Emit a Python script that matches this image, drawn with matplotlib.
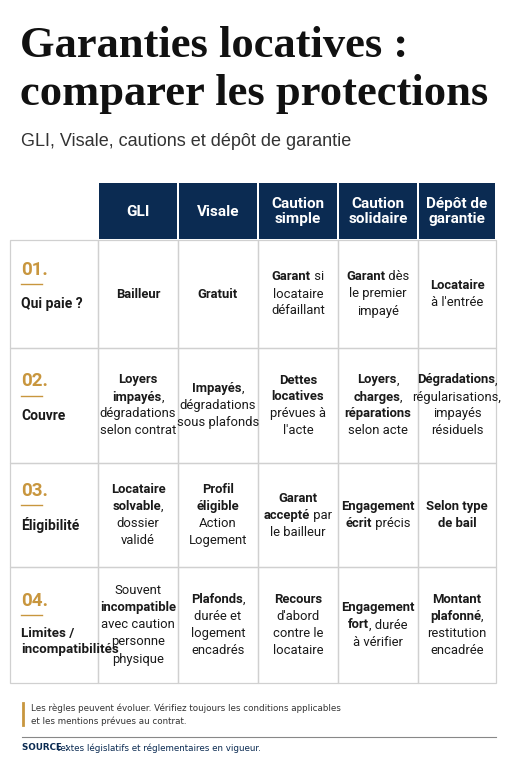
import re
import matplotlib.pyplot as plt
from matplotlib.patches import Rectangle
from matplotlib.font_manager import fontManager

NAVY = "#0b2b52"
GOLD = "#c8963e"
GRID = "#d0d0d0"
TXT = "#1a1a1a"

names = {f.name for f in fontManager.ttflist}
COND = "Liberation Sans Narrow" if "Liberation Sans Narrow" in names else "Roboto"

columns = ["GLI", "Visale", "Caution\nsimple", "Caution\nsolidaire", "Dépôt de\ngarantie"]
row_nums = ["01.", "02.", "03.", "04."]
row_labels = ["Qui paie ?", "Couvre", "Éligibilité", "Limites /\nincompatibilités"]
# ** marks bold pieces
cells = [
    ["**Bailleur**", "**Gratuit**", "**Garant** si\nlocataire\ndéfaillant",
     "**Garant** dès\nle premier\nimpayé", "**Locataire**\nà l'entrée"],
    ["**Loyers**\n**impayés**,\ndégradations\nselon contrat", "**Impayés**,\ndégradations\nsous plafonds",
     "**Dettes**\n**locatives**\nprévues à\nl'acte", "**Loyers**,\n**charges**,\n**réparations**\nselon acte",
     "**Dégradations**,\nrégularisations,\nimpayés\nrésiduels"],
    ["**Locataire**\n**solvable**,\ndossier\nvalidé", "**Profil**\n**éligible**\nAction\nLogement",
     "**Garant**\n**accepté** par\nle bailleur", "**Engagement**\n**écrit** précis", "**Selon type**\n**de bail**"],
    ["Souvent\n**incompatible**\navec caution\npersonne\nphysique", "**Plafonds**,\ndurée et\nlogement\nencadrés",
     "**Recours**\nd'abord\ncontre le\nlocataire", "**Engagement**\n**fort**, durée\nà vérifier",
     "**Montant**\n**plafonné**,\nrestitution\nencadrée"],
]

W, H = 511, 768
fig = plt.figure(figsize=(W / 100, H / 100), dpi=100)
ax = fig.add_axes([0, 0, 1, 1])
ax.set_xlim(0, W)
ax.set_ylim(H, 0)
ax.axis("off")

ax.text(20, 46, "Garanties locatives :", fontsize=32, fontweight="bold",
        family="Liberation Serif", va="center", color="#111")
ax.text(20, 94, "comparer les protections", fontsize=32, fontweight="bold",
        family="Liberation Serif", va="center", color="#111")
ax.text(21, 141, "GLI, Visale, cautions et dépôt de garantie", fontsize=13,
        family="Liberation Sans", va="center", color="#333")

col_x = [10, 98, 178, 258, 338, 418, 496]
row_y = [240, 348, 463, 567, 683]
head_top = 183

renderer = fig.canvas.get_renderer()


def draw_line(xc, y, line, size=9.4):
    parts = [p for p in re.split(r"(\*\*.*?\*\*)", line) if p]
    arts = []
    for p in parts:
        w = "bold" if p.startswith("**") else "normal"
        arts.append(ax.text(0, y, p.strip("*"), fontsize=size, fontweight=w, family=COND,
                            va="center", ha="left", color=TXT))
    inv = ax.transData.inverted()
    widths = []
    for t in arts:
        bb = t.get_window_extent(renderer)
        widths.append(inv.transform((bb.x1, 0))[0] - inv.transform((bb.x0, 0))[0])
    x = xc - sum(widths) / 2
    for t, w in zip(arts, widths):
        t.set_x(x)
        x += w


# header
for j, col in enumerate(columns):
    x0, x1 = col_x[j + 1], col_x[j + 2]
    ax.add_patch(Rectangle((x0 + 1, head_top), x1 - x0 - 2, row_y[0] - head_top - 1,
                           color=NAVY, lw=0))
    ax.text((x0 + x1) / 2, (head_top + row_y[0]) / 2, col, ha="center", va="center",
            color="white", fontsize=11, fontweight="bold", family=COND, linespacing=1.05)

# grid
for i in range(len(row_nums)):
    y0, y1 = row_y[i], row_y[i + 1]
    for j in range(len(col_x) - 1):
        ax.add_patch(Rectangle((col_x[j], y0), col_x[j + 1] - col_x[j], y1 - y0,
                               fill=False, ec=GRID, lw=0.9))
    ym = (y0 + y1) / 2
    ax.text(21, ym - 24, row_nums[i], color=GOLD, fontsize=13.5, fontweight="bold",
            family=COND, va="center")
    ax.plot([21, 42], [ym - 10, ym - 10], color=GOLD, lw=1)
    nl = row_labels[i].count("\n")
    ax.text(21, ym + 10 + nl * 7, row_labels[i], color=TXT, fontsize=10 if nl == 0 else 9.6,
            fontweight="bold", family=COND, va="center", linespacing=1.3)
    for j, cell in enumerate(cells[i]):
        lines = cell.split("\n")
        xc = (col_x[j + 1] + col_x[j + 2]) / 2
        step = 17
        top = ym - (len(lines) - 1) * step / 2
        for k, ln in enumerate(lines):
            draw_line(xc, top + k * step, ln)

# footer
ax.plot([23, 23], [703, 725], color=GOLD, lw=2)
ax.text(31, 708, "Les règles peuvent évoluer. Vérifiez toujours les conditions applicables",
        fontsize=6.3, color="#333", va="center", family="Liberation Sans Narrow")
ax.text(31, 721, "et les mentions prévues au contrat.", fontsize=6.3, color="#333",
        va="center", family="Liberation Sans Narrow")
ax.plot([22, 496], [737, 737], color="#888", lw=0.8)
ax.text(22, 748, "SOURCE :", fontsize=6.3, color=NAVY, fontweight="bold", va="center",
        family="Liberation Sans Narrow")
ax.text(57, 748, "textes législatifs et réglementaires en vigueur.", fontsize=6.3,
        color=NAVY, va="center", family="Liberation Sans Narrow")

fig.savefig("out.png", dpi=100, facecolor="white")
